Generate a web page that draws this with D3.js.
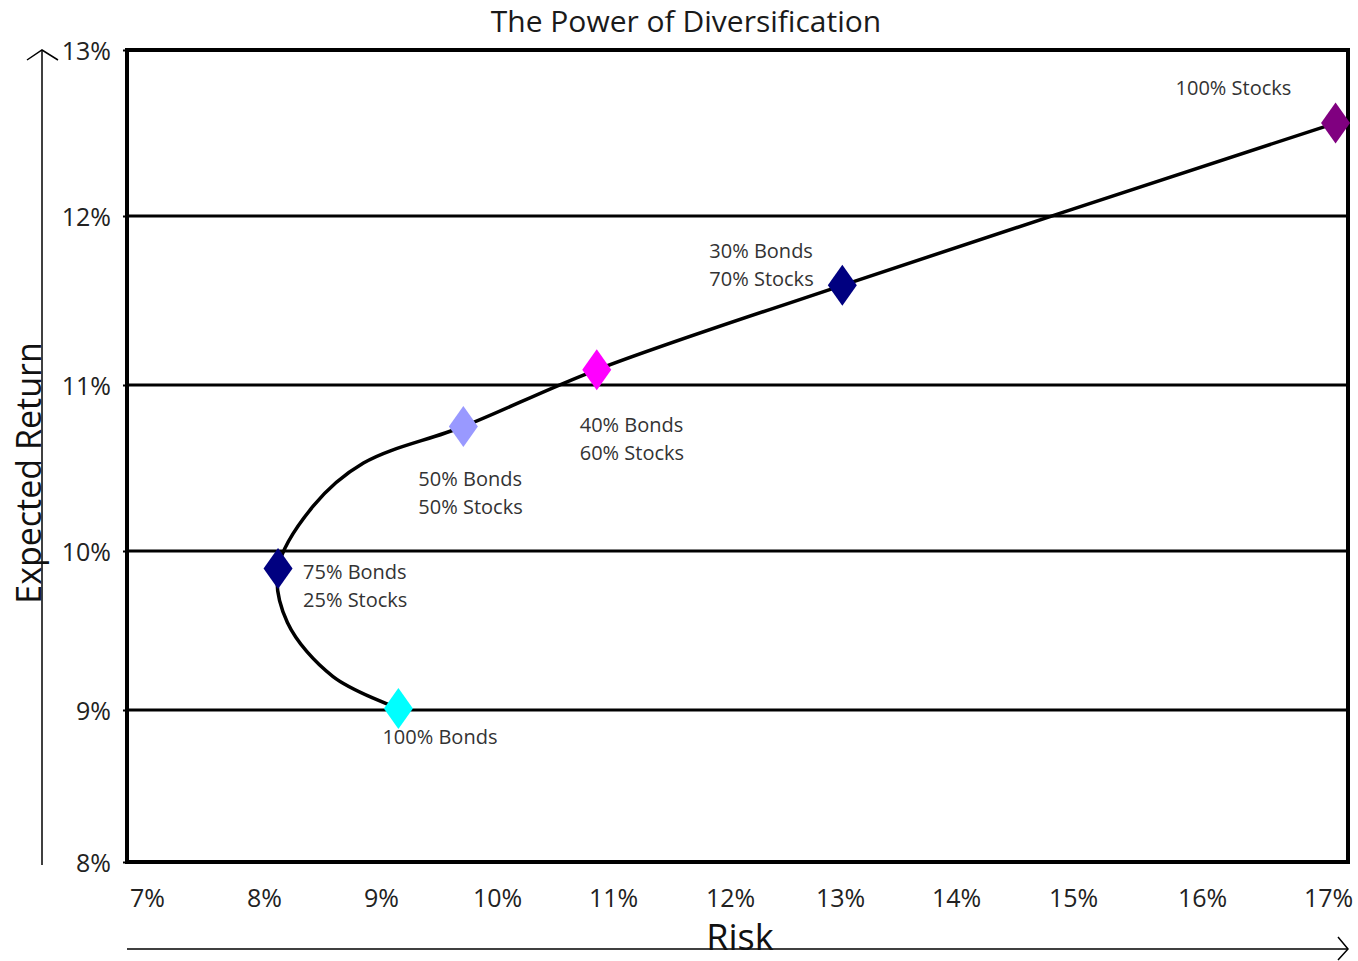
<!DOCTYPE html>
<html>
<head>
<meta charset="utf-8">
<script src="https://cdn.jsdelivr.net/npm/d3@7"></script>
<style>
  html, body { margin: 0; padding: 0; background: #fff; }
  svg { display: block; font-family: "Open Sans", sans-serif; }
</style>
</head>
<body>
<svg id="chart" width="1358" height="961"></svg>
<script>
// ---- data ----
const title = "The Power of Diversification";
const xTitle = "Risk";
const yTitle = "Expected Return";
const xTicks = [7, 8, 9, 10, 11, 12, 13, 14, 15, 16, 17];
const yTicks = [8, 9, 10, 11, 12, 13];
const gridValues = [9, 10, 11, 12];
const portfolios = ["100% Bonds", "75% Bonds\n25% Stocks", "50% Bonds\n50% Stocks", "40% Bonds\n60% Stocks", "30% Bonds\n70% Stocks", "100% Stocks"];
const risk = [9.15, 8.12, 9.71, 10.86, 13.02, 17.06];
const ret = [9.01, 9.89, 10.75, 11.09, 11.59, 12.56];
const colors = ["#00FFFF", "#000080", "#9999FF", "#FF00FF", "#000080", "#800080"];
// efficient-frontier curve
const frontierRisk = [9.15, 8.59, 8.20, 8.12, 8.42, 8.85, 9.71, 10.86, 13.02, 17.06];
const frontierReturn = [9.01, 9.21, 9.55, 9.89, 10.27, 10.53, 10.75, 11.09, 11.59, 12.56];

// ---- layout ----
const frame = { left: 127, right: 1348, top: 50, bottom: 862 };
// label offsets relative to marker (x of text start, y of first line centre)
const labelOffsets = [[-16, 29], [25, 4], [-45, 52], [-17, 55], [-133, -34], [-160, -35]];

const svg = d3.select("#chart");

// polylinear scales matching the reference's tick placement
const x = d3.scaleLinear()
  .domain(xTicks)
  .range([147, 264, 381, 497, 613, 730, 840, 956, 1073, 1202, 1328]);
const y = d3.scaleLinear()
  .domain(yTicks)
  .range([862, 710, 551, 385, 216, 50]);

// gridlines
svg.append("g").selectAll("line").data(gridValues).join("line")
  .attr("x1", frame.left).attr("x2", frame.right + 2)
  .attr("y1", d => y(d)).attr("y2", d => y(d))
  .attr("stroke", "#000").attr("stroke-width", 3);

// frame
svg.append("rect")
  .attr("x", frame.left).attr("y", frame.top)
  .attr("width", frame.right - frame.left).attr("height", frame.bottom - frame.top)
  .attr("fill", "none").attr("stroke", "#000").attr("stroke-width", 4);

// y axis ticks + labels
const yAxis = d3.axisLeft(y).tickValues(yTicks).tickSize(4).tickPadding(12).tickFormat(d => d + "%");
const gy = svg.append("g").attr("transform", `translate(${frame.left},0)`).call(yAxis);
gy.select(".domain").remove();
gy.selectAll(".tick line").attr("stroke", "#000").attr("stroke-width", 2);
gy.selectAll(".tick text").attr("font-size", 25).attr("fill", "#222")
  .attr("font-family", "Open Sans, sans-serif").attr("dy", "0.36em");

// x axis labels (no tick marks)
const xAxis = d3.axisBottom(x).tickValues(xTicks).tickSize(0).tickPadding(27).tickFormat(d => d + "%");
const gx = svg.append("g").attr("transform", `translate(0,${frame.bottom})`).call(xAxis);
gx.select(".domain").remove();
gx.selectAll(".tick text").attr("font-size", 25).attr("fill", "#222")
  .attr("font-family", "Open Sans, sans-serif");

// frontier curve
const curvePts = frontierRisk.map((r, i) => [r, frontierReturn[i]]);
const line = d3.line().x(d => x(d[0])).y(d => y(d[1])).curve(d3.curveCatmullRom.alpha(0.5));
svg.append("path").datum(curvePts)
  .attr("d", line).attr("fill", "none").attr("stroke", "#000").attr("stroke-width", 3.5);

// diamonds
const pts = risk.map((r, i) => [r, ret[i]]);
const dw = 14.5, dh = 20.5;
svg.append("g").selectAll("path").data(pts).join("path")
  .attr("transform", d => `translate(${x(d[0])},${y(d[1])})`)
  .attr("d", `M0,${-dh}L${dw},0L0,${dh}L${-dw},0Z`)
  .attr("fill", (d, i) => colors[i]);

// labels
const lg = svg.append("g").attr("font-size", 20).attr("fill", "#333");
portfolios.forEach((name, i) => {
  const t = lg.append("text")
    .attr("x", x(risk[i]) + labelOffsets[i][0])
    .attr("y", y(ret[i]) + labelOffsets[i][1]);
  name.split("\n").forEach((ln, j) => {
    t.append("tspan").attr("x", x(risk[i]) + labelOffsets[i][0])
      .attr("dy", j === 0 ? "0.35em" : 28).text(ln);
  });
});

// title
svg.append("text").attr("x", 686).attr("y", 32).attr("text-anchor", "middle")
  .attr("font-size", 30).attr("fill", "#1a1a1a").text(title);

// axis arrows
svg.append("line").attr("x1", 42).attr("x2", 42).attr("y1", 50).attr("y2", 865)
  .attr("stroke", "#000").attr("stroke-width", 1.5);
svg.append("path").attr("d", "M27,60L42,50L58,60").attr("fill", "none").attr("stroke", "#000").attr("stroke-width", 1.5);
svg.append("line").attr("x1", 127).attr("x2", 1347).attr("y1", 949).attr("y2", 949)
  .attr("stroke", "#000").attr("stroke-width", 1.5);
svg.append("path").attr("d", "M1338,937L1348,949L1338,960").attr("fill", "none").attr("stroke", "#000").attr("stroke-width", 1.5);

// axis titles
svg.append("text").attr("x", 740).attr("y", 950).attr("text-anchor", "middle")
  .attr("font-size", 36).attr("fill", "#111").text(xTitle);
svg.append("text").attr("transform", "translate(41,473) rotate(-90)").attr("text-anchor", "middle")
  .attr("font-size", 34).attr("fill", "#111").text(yTitle);
</script>
</body>
</html>
